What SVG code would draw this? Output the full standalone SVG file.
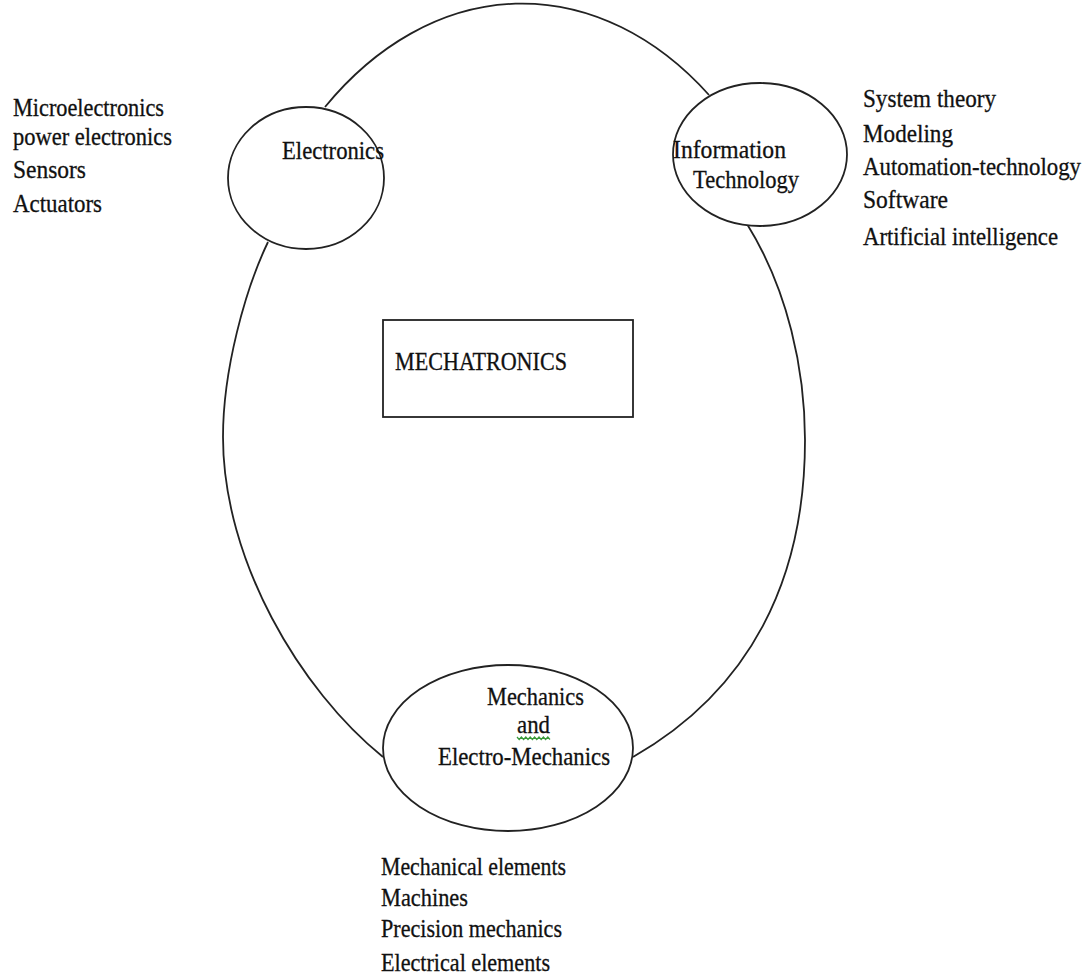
<svg xmlns="http://www.w3.org/2000/svg" width="1091" height="975" viewBox="0 0 1091 975">
<style>
.bg{fill:#fff}
.shape{fill:#fff;stroke:#222;stroke-width:1.8}
.conn{fill:none;stroke:#222;stroke-width:1.8}
.t{font-family:"Liberation Serif","Times New Roman",serif;font-size:25px;fill:#111;stroke:#111;stroke-width:0.3}
.spell{fill:none;stroke:#3a9a3a;stroke-width:1.2}
</style>
<rect class="bg" x="0" y="0" width="1091" height="975"/>
<g id="connectors">
<path class="conn" d="M325,107 A300,420 0 0 1 709,95"/>
<path class="conn" d="M268,242 C245,290 223,370 223,437 C223,560 300,690 383,757"/>
<path class="conn" d="M747,224 C788,290 805,370 805,440 C805,580 750,690 633,757"/>
</g>
<g id="electronics">
<ellipse class="shape" cx="306" cy="178" rx="78" ry="71"/>
<text class="t" x="282" y="159" textLength="102" lengthAdjust="spacingAndGlyphs">Electronics</text>
</g>
<g id="information-technology">
<ellipse class="shape" cx="760" cy="154.5" rx="87" ry="71.5"/>
<text class="t" x="673" y="158" textLength="113" lengthAdjust="spacingAndGlyphs">Information</text>
<text class="t" x="693" y="188" textLength="106" lengthAdjust="spacingAndGlyphs">Technology</text>
</g>
<g id="mechatronics">
<rect class="shape" x="383" y="320" width="250" height="97" stroke-width="2"/>
<text class="t" x="395" y="370" textLength="172" lengthAdjust="spacingAndGlyphs">MECHATRONICS</text>
</g>
<g id="mechanics">
<ellipse class="shape" cx="508" cy="748" rx="125" ry="83"/>
<text class="t" x="487" y="705" textLength="97" lengthAdjust="spacingAndGlyphs">Mechanics</text>
<text class="t" x="517" y="733" textLength="33" lengthAdjust="spacingAndGlyphs">and</text>
<path class="spell" d="M517,737 l2.2,2.5 l2.2,-2.5 l2.2,2.5 l2.2,-2.5 l2.2,2.5 l2.2,-2.5 l2.2,2.5 l2.2,-2.5 l2.2,2.5 l2.2,-2.5 l2.2,2.5 l2.2,-2.5 l2.2,2.5 l2.2,-2.5 l2.2,2.5"/>
<text class="t" x="438" y="765" textLength="172" lengthAdjust="spacingAndGlyphs">Electro-Mechanics</text>
</g>
<g id="electronics-topics">
<text class="t" x="13" y="116" textLength="151" lengthAdjust="spacingAndGlyphs">Microelectronics</text>
<text class="t" x="13" y="145" textLength="159" lengthAdjust="spacingAndGlyphs">power electronics</text>
<text class="t" x="13" y="178" textLength="73" lengthAdjust="spacingAndGlyphs">Sensors</text>
<text class="t" x="13" y="212" textLength="89" lengthAdjust="spacingAndGlyphs">Actuators</text>
</g>
<g id="it-topics">
<text class="t" x="863" y="107" textLength="133" lengthAdjust="spacingAndGlyphs">System theory</text>
<text class="t" x="863" y="142" textLength="90" lengthAdjust="spacingAndGlyphs">Modeling</text>
<text class="t" x="863" y="175" font-size="23" textLength="218" lengthAdjust="spacingAndGlyphs">Automation-technology</text>
<text class="t" x="863" y="208" textLength="85" lengthAdjust="spacingAndGlyphs">Software</text>
<text class="t" x="863" y="245" textLength="195" lengthAdjust="spacingAndGlyphs">Artificial intelligence</text>
</g>
<g id="mechanics-topics">
<text class="t" x="381" y="875" textLength="185" lengthAdjust="spacingAndGlyphs">Mechanical elements</text>
<text class="t" x="381" y="906" textLength="87" lengthAdjust="spacingAndGlyphs">Machines</text>
<text class="t" x="381" y="937" textLength="181" lengthAdjust="spacingAndGlyphs">Precision mechanics</text>
<text class="t" x="381" y="971" textLength="169" lengthAdjust="spacingAndGlyphs">Electrical elements</text>
</g>
</svg>
